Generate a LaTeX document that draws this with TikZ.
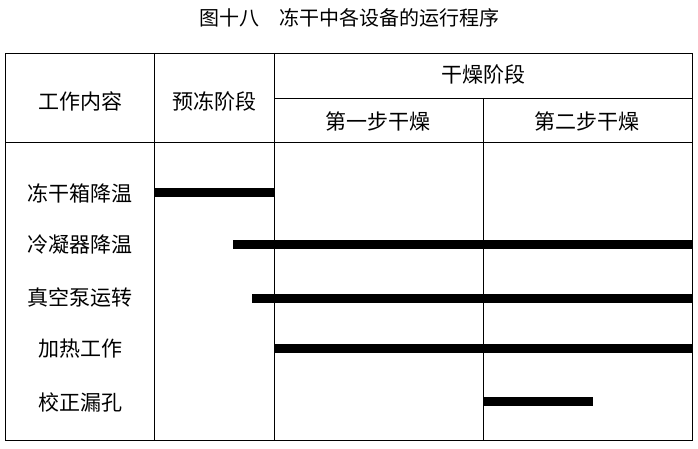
\documentclass[tikz,border=0pt]{standalone}
\usepackage{fontspec}
\setmainfont{Noto Sans CJK SC}
\tikzstyle{label} = [font=\fontsize{21}{24}\selectfont, inner sep=0pt]
\tikzstyle{grid} = [line width=0.8pt]
\tikzstyle{bar} = [line width=9pt]

\begin{document}
\begin{tikzpicture}[x=1pt,y=-1pt]
\useasboundingbox (0,0) rectangle (698,449);

% Title
\node (title) [label, font=\fontsize{20}{24}\selectfont] at (349,18) {图十八\quad 冻干中各设备的运行程序};

% Table frame
\draw [grid] (5,53) rectangle (692,440);
\draw [grid] (154,53) -- (154,440)
      (274,53) -- (274,440)
      (483,98) -- (483,440)
      (274,98) -- (692,98)
      (5,142) -- (692,142);

% Header
\node (work) [label] at (80,101) {工作内容};
\node (pre)  [label] at (214,101) {预冻阶段};
\node (dry)  [label] at (483,75) {干燥阶段};
\node (dry1) [label] at (378,121) {第一步干燥};
\node (dry2) [label] at (587,121) {第二步干燥};

% Rows
\node (r1) [label] at (80,193) {冻干箱降温};
\node (r2) [label] at (80,245) {冷凝器降温};
\node (r3) [label] at (80,297) {真空泵运转};
\node (r4) [label] at (80,349) {加热工作};
\node (r5) [label] at (80,402) {校正漏孔};

% Bars
\coordinate (b1s) at (154,192); \coordinate (b1e) at (274,192);
\coordinate (b2s) at (233,244); \coordinate (b2e) at (692,244);
\coordinate (b3s) at (252,298); \coordinate (b3e) at (692,298);
\coordinate (b4s) at (274,348); \coordinate (b4e) at (692,348);
\coordinate (b5s) at (483,401); \coordinate (b5e) at (593,401);
\draw [bar] (b1s) -- (b1e);
\draw [bar] (b2s) -- (b2e);
\draw [bar] (b3s) -- (b3e);
\draw [bar] (b4s) -- (b4e);
\draw [bar] (b5s) -- (b5e);
\end{tikzpicture}
\end{document}
